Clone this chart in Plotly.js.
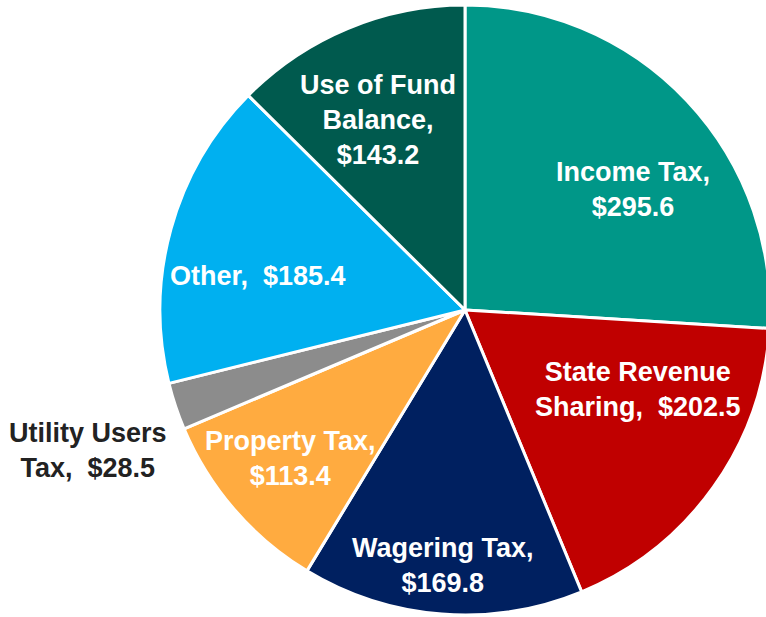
<!DOCTYPE html>
<html>
<head>
<meta charset="utf-8">
<script src="https://cdn.plot.ly/plotly-3.0.1.min.js"></script>
<style>html,body{margin:0;padding:0;background:#fff;overflow:hidden;width:766px;height:617px;}#chart{width:780px;height:617px;}</style>
</head>
<body>
<div id="chart"></div>
<script>
const categories = ["Income Tax", "State Revenue Sharing", "Wagering Tax", "Property Tax", "Utility Users Tax", "Other", "Use of Fund Balance"];
const values = [295.6, 202.5, 169.8, 113.4, 28.5, 185.4, 143.2];
const colors = ["#009788", "#C00000", "#002060", "#FFAB40", "#8C8C8C", "#00B0F0", "#005A4E"];
const labelTexts = [
  "Income Tax,<br>$295.6",
  "State Revenue<br>Sharing,  $202.5",
  "Wagering Tax,<br>$169.8",
  "Property Tax,<br>$113.4",
  "Utility Users<br>Tax,  $28.5",
  "Other,  $185.4",
  "Use of Fund<br>Balance,<br>$143.2"
];
// label anchor positions in pixels (layout only)
const labelPos = [[633,189],[638,389],[443,565],[290,458],[88,451],[258,276],[378,120]];
const labelColors = ["#fff","#fff","#fff","#fff","#222","#fff","#fff"];

const W = 780, H = 617;
const annotations = labelTexts.map((t, i) => ({
  text: t,
  x: labelPos[i][0] / W,
  y: 1 - labelPos[i][1] / H,
  xref: "paper", yref: "paper",
  xanchor: "center", yanchor: "middle",
  showarrow: false,
  align: "center",
  font: {family: "Liberation Sans Narrow, Arial Narrow, Liberation Sans, Arial, sans-serif", size: 27, color: labelColors[i], weight: "bold"}
}));

Plotly.newPlot("chart", [{
  type: "pie",
  labels: categories,
  values: values,
  sort: false,
  direction: "clockwise",
  rotation: 0,
  textinfo: "none",
  hoverinfo: "label+value",
  marker: {colors: colors, line: {color: "#ffffff", width: 3}},
  domain: {x: [160 / W, 770 / W], y: [2 / H, 612 / H]}
}], {
  width: W, height: H,
  margin: {l: 0, r: 0, t: 0, b: 0, pad: 0},
  showlegend: false,
  paper_bgcolor: "#fff",
  annotations: annotations
}, {displayModeBar: false, staticPlot: true});
</script>
</body>
</html>
